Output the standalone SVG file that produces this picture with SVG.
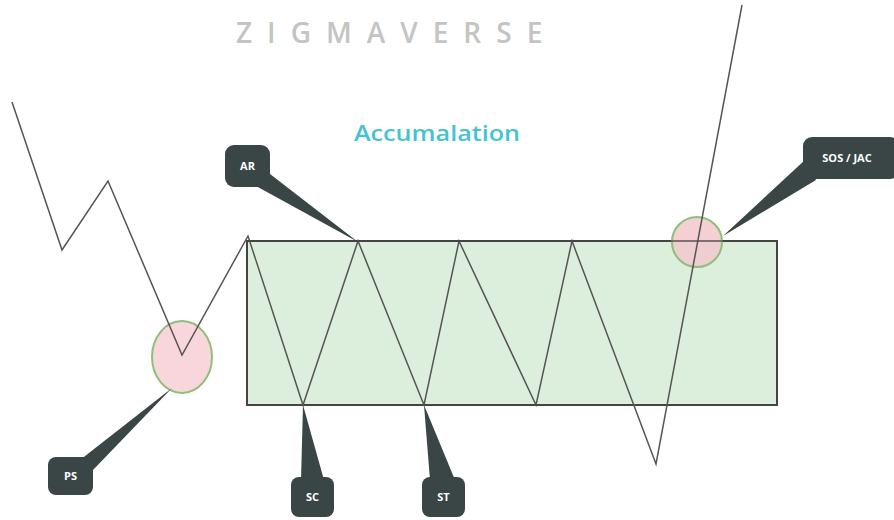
<svg xmlns="http://www.w3.org/2000/svg" width="894" height="520" viewBox="0 0 894 520">
<style>
.title{font-family:"Open Sans","Liberation Sans",sans-serif;font-size:28px;font-weight:600;fill:#c4c4c4;letter-spacing:15px}
.acc{font-family:"Open Sans","Liberation Sans",sans-serif;font-size:22px;font-weight:600;fill:#45c3d3}
.box{fill:#3a4545}
.lbl{font-family:"Open Sans","Liberation Sans",sans-serif;font-size:11px;font-weight:700;fill:#ffffff;text-anchor:middle}
.price{fill:none;stroke:#555;stroke-width:1.5;stroke-linejoin:miter}
.circ{stroke:#8fbf7a;stroke-width:2}
</style>
<rect width="894" height="520" fill="#ffffff"/>
<text class="title" x="236" y="43">ZIGMAVERSE</text>
<text class="acc" x="354" y="141" textLength="166" lengthAdjust="spacingAndGlyphs">Accumalation</text>
<g id="range">
<rect x="247" y="241" width="530" height="164" fill="#dcefdc" stroke="#444" stroke-width="2"/>
</g>
<g id="circles">
<ellipse id="ps-circle" cx="182" cy="357" rx="30" ry="36" fill="#f9d6dc" class="circ"/>
<circle id="sos-circle" cx="697" cy="242" r="25" fill="#f2c8cc" fill-opacity="0.85" class="circ"/>
</g>
<g id="connectors">
<polyline class="price" points="12,102 62,250 108,181 182,355 248,236 303,405 358,241 424,405 459,241 536,405 572,241 656,464 742,5"/>
<line x1="247" y1="241" x2="777" y2="241" stroke="#444" stroke-width="2" stroke-opacity="0.6"/>
</g>
<g id="AR">
<polygon class="box" points="256,186 270,174 358,242"/>
<rect class="box" x="225" y="145" width="45" height="42" rx="9"/>
<text class="lbl" x="247.5" y="170">AR</text>
</g>
<g id="SOS-JAC">
<polygon class="box" points="805,160 816,180 723,236"/>
<rect class="box" x="803" y="137" width="96" height="42" rx="9"/>
<text class="lbl" x="847" y="162">SOS / JAC</text>
</g>
<g id="PS">
<polygon class="box" points="80,460 93,470 172,388"/>
<rect class="box" x="48" y="457" width="45" height="38" rx="8"/>
<text class="lbl" x="70.5" y="480">PS</text>
</g>
<g id="SC">
<polygon class="box" points="301,480 324,480 303,405"/>
<rect class="box" x="291" y="477" width="43" height="40" rx="8"/>
<text class="lbl" x="312.5" y="501">SC</text>
</g>
<g id="ST">
<polygon class="box" points="430,480 455,480 424,405"/>
<rect class="box" x="422" y="477" width="43" height="40" rx="8"/>
<text class="lbl" x="443.5" y="501">ST</text>
</g>
</svg>
